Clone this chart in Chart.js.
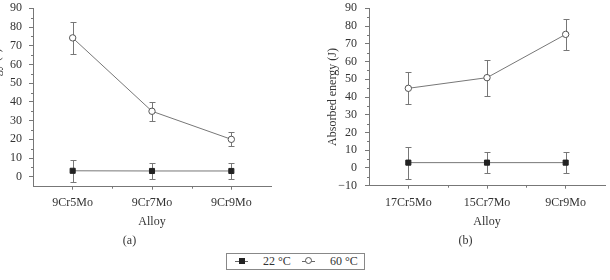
<!DOCTYPE html>
<html>
<head>
<meta charset="utf-8">
<script src="https://cdn.jsdelivr.net/npm/chart.js@4.4.1/dist/chart.umd.min.js"></script>
<style>
  body { margin: 0; background: #fff; width: 610px; height: 280px; overflow: hidden; position: relative; }
  canvas { position: absolute; top: 0; }
  #chartA { left: -14px; }
  #chartB { left: 322px; }
  #legend {
    position: absolute; left: 226px; top: 253px; width: 137px; height: 15px;
    border: 1px solid #888; font: 12px "Liberation Serif", serif; color: #333;
  }
  .item { position: absolute; top: 0; line-height: 15px; }
  .ln { position: absolute; top: 7px; height: 1px; width: 13px; background: #666; }
  .sq { position: absolute; top: 4px; width: 6px; height: 6px; background: #222; }
  .ci { position: absolute; top: 3px; width: 5px; height: 5px; border: 1px solid #555; border-radius: 50%; background: #fff; }
</style>
</head>
<body>
<canvas id="chartA" width="290" height="250"></canvas>
<canvas id="chartB" width="288" height="250"></canvas>
<div id="legend">
  <div class="ln" style="left:8px"></div><div class="sq" style="left:12px"></div>
  <div class="item" style="left:36px">22 °C</div>
  <div class="ln" style="left:75px"></div><div class="ci" style="left:78px"></div>
  <div class="item" style="left:103px">60 °C</div>
</div>
<script>
// (a)
var alloysA = ['9Cr5Mo', '9Cr7Mo', '9Cr9Mo'];
var a22 = [3.2, 3.1, 3.1];
var a22Lo = [-3, -1.1, -1.1];
var a22Hi = [9.2, 7.1, 7.1];
var a60 = [74.2, 35, 20];
var a60Lo = [65.8, 29.7, 16.6];
var a60Hi = [82.7, 40, 23.9];
var yTicksA = [0, 10, 20, 30, 40, 50, 60, 70, 80, 90];
var yMinorA = [5, 15, 25, 35, 45, 55, 65, 75, 85];

// (b)
var alloysB = ['17Cr5Mo', '15Cr7Mo', '9Cr9Mo'];
var b22 = [3, 3, 3];
var b22Lo = [-6.2, -2.8, -3];
var b22Hi = [12, 8.8, 9];
var b60 = [44.9, 50.9, 75.3];
var b60Lo = [35.9, 40.7, 66.3];
var b60Hi = [54.1, 61, 84];
var yTicksB = [-10, 0, 10, 20, 30, 40, 50, 60, 70, 80, 90];
var yMinorB = [-5, 5, 15, 25, 35, 45, 55, 65, 75, 85];

Chart.defaults.font.family = '"Liberation Serif", "DejaVu Serif", serif';
Chart.defaults.font.size = 12;
Chart.defaults.color = '#333';

var axisColor = '#777';

// error bars + minor ticks, all from scales
var extras = {
    id: 'extras',
    beforeDatasetsDraw: function (chart) {
        var ctx = chart.ctx, y = chart.scales.y;
        ctx.save();
        ctx.strokeStyle = '#777';
        ctx.lineWidth = 1;
        chart.data.datasets.forEach(function (ds, i) {
            var meta = chart.getDatasetMeta(i);
            meta.data.forEach(function (pt, j) {
                var x = Math.round(pt.x) + 0.5;
                var top = Math.round(y.getPixelForValue(ds.hi[j])) + 0.5;
                var bot = Math.round(y.getPixelForValue(ds.lo[j])) + 0.5;
                ctx.beginPath();
                ctx.moveTo(x, top); ctx.lineTo(x, bot);
                ctx.moveTo(x - 3, top); ctx.lineTo(x + 3, top);
                ctx.moveTo(x - 3, bot); ctx.lineTo(x + 3, bot);
                ctx.stroke();
            });
        });
        ctx.restore();
    },
    afterDraw: function (chart) {
        var ctx = chart.ctx, y = chart.scales.y, xs = chart.scales.x;
        var minor = chart.options.plugins.extras.minor;
        ctx.save();
        ctx.strokeStyle = axisColor;
        ctx.lineWidth = 1;
        ctx.beginPath();
        minor.forEach(function (v) {
            var py = Math.round(y.getPixelForValue(v)) + 0.5;
            ctx.moveTo(y.right - 2, py); ctx.lineTo(y.right, py);
        });
        for (var i = 0; i < xs.ticks.length - 1; i++) {
            var px = Math.round((xs.getPixelForValue(i) + xs.getPixelForValue(i + 1)) / 2) + 0.5;
            ctx.moveTo(px, xs.top); ctx.lineTo(px, xs.top + 2);
        }
        ctx.stroke();
        ctx.restore();
    }
};

function makeChart(id, labels, v22, lo22, hi22, v60, lo60, hi60, yMin, yTicks, yMinor, caption, yPad, padRight, xHeight, xPad, titlePadBottom) {
    var ctx = document.getElementById(id).getContext('2d');
    return new Chart(ctx, {
        type: 'line',
        data: {
            labels: labels,
            datasets: [{
                label: '22 °C',
                data: v22,
                lo: lo22,
                hi: hi22,
                borderColor: '#777',
                borderWidth: 1,
                pointStyle: 'rect',
                pointRadius: 3.6,
                pointBackgroundColor: '#222',
                pointBorderColor: '#222',
                pointBorderWidth: 1
            }, {
                label: '60 °C',
                data: v60,
                lo: lo60,
                hi: hi60,
                borderColor: '#777',
                borderWidth: 1,
                pointStyle: 'circle',
                pointRadius: 3.2,
                pointBackgroundColor: '#fff',
                pointBorderColor: '#555',
                pointBorderWidth: 1
            }]
        },
        options: {
            responsive: false,
            animation: false,
            layout: { padding: { top: 8.3, right: padRight, left: 0, bottom: 0 } },
            plugins: {
                legend: { display: false },
                tooltip: { enabled: false },
                title: {
                    display: true,
                    position: 'bottom',
                    text: caption,
                    font: { size: 12, weight: 'normal' },
                    padding: { top: 0, bottom: 2 }
                },
                extras: { minor: yMinor }
            },
            scales: {
                x: {
                    offset: true,
                    afterFit: function (s) { s.height = xHeight; },
                    grid: { drawOnChartArea: false, tickLength: 3, tickColor: axisColor, offset: false },
                    border: { color: axisColor },
                    ticks: { padding: xPad, maxRotation: 0, autoSkip: false },
                    title: { display: true, text: 'Alloy', padding: { top: 0, bottom: titlePadBottom } }
                },
                y: {
                    min: yMin,
                    max: 90,
                    afterBuildTicks: function (s) {
                        s.ticks = yTicks.map(function (v) { return { value: v }; });
                    },
                    afterFit: function (s) { s.width = 47; s.paddingTop = 0; s.paddingBottom = 0; },
                    grid: { drawOnChartArea: false, tickLength: 4, tickColor: axisColor },
                    border: { color: axisColor },
                    ticks: {
                        padding: yPad,
                        autoSkip: false,
                        callback: function (v) { return String(v).replace('-', '\u2212'); }
                    },
                    title: { display: true, text: 'Absorbed energy (J)', padding: { top: 4, bottom: 4 } }
                }
            }
        },
        plugins: [extras]
    });
}

makeChart('chartA', alloysA, a22, a22Lo, a22Hi, a60, a60Lo, a60Hi, -5.3, yTicksA, yMinorA, '(a)', 7, 3, 46.9, 6, 4.7);
makeChart('chartB', alloysB, b22, b22Lo, b22Hi, b60, b60Lo, b60Hi, -10, yTicksB, yMinorB, '(b)', 8, 1, 47.9, 7.4, 4.1);
</script>
</body>
</html>
